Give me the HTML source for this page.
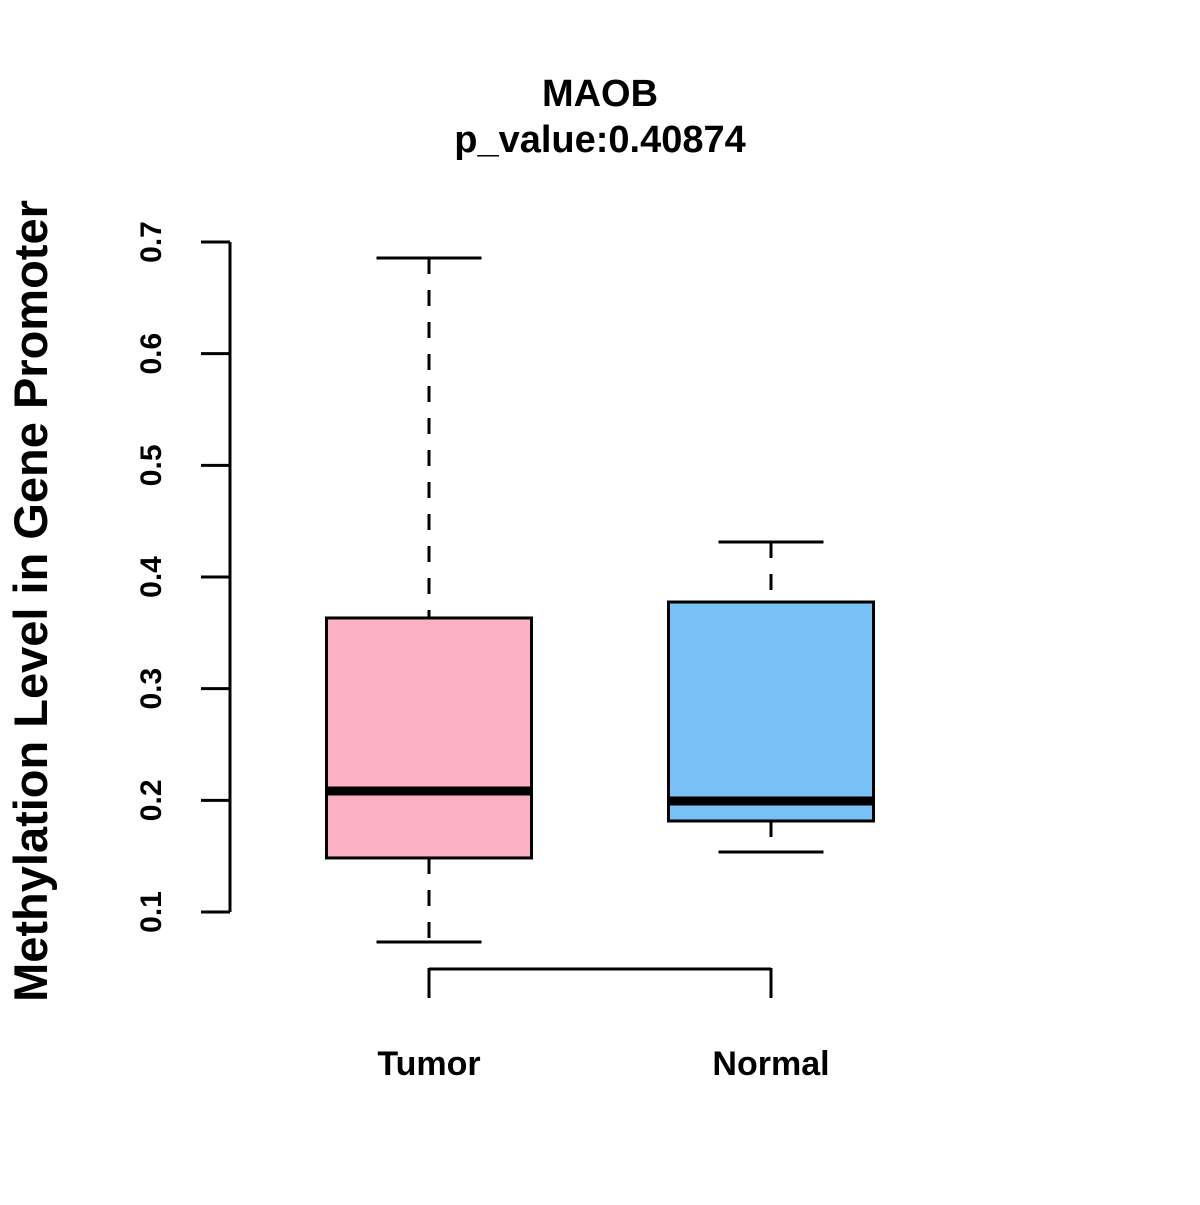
<!DOCTYPE html>
<html><head><meta charset="utf-8"><style>
body{margin:0;background:#fff}
svg text{font-family:"Liberation Sans",Arial,sans-serif;font-weight:bold;fill:#000}
</style></head><body>
<svg width="1200" height="1200" viewBox="0 0 1200 1200">
<rect width="1200" height="1200" fill="#fff"/>
<text x="600" y="106" text-anchor="middle" font-size="38">MAOB</text>
<text x="600" y="152" text-anchor="middle" font-size="38">p_value:0.40874</text>
<text transform="translate(47,601) rotate(-90)" text-anchor="middle" font-size="47">Methylation Level in Gene Promoter</text>
<g id="yaxis"></g>
<g id="boxes"></g>
<g id="xaxis"></g>
</svg>
<script>
const categories=["Tumor","Normal"];
const whiskerLow=[0.0731,0.1537];
const q1=[0.1484,0.1815];
const median=[0.2084,0.1994];
const q3=[0.3633,0.3776];
const whiskerHigh=[0.6857,0.4313];
const colors=["#FBB1C3","#77C1F7"];
const yTicks=[0.1,0.2,0.3,0.4,0.5,0.6,0.7];
const NS="http://www.w3.org/2000/svg";
function y(v){return 912-(v-0.1)*(670/0.6);}
function x(i){return 429+i*342;}
function mk(p,tag,a){const e=document.createElementNS(NS,tag);for(const k in a)e.setAttribute(k,a[k]);p.appendChild(e);return e;}
const ya=document.getElementById('yaxis');
let l=mk(ya,'line',{x1:230,x2:230,y1:y(yTicks[0]),y2:y(yTicks[yTicks.length-1]),stroke:'#000','stroke-width':3});


yTicks.forEach(t=>{
 const tk=mk(ya,'line',{x1:201,x2:230,y1:y(t),y2:y(t),stroke:'#000','stroke-width':3});
 
 
 const tx=mk(ya,'text',{transform:`translate(161,${y(t)}) rotate(-90)`,'text-anchor':'middle','font-size':30});
 tx.textContent=t.toFixed(1);
 
 
});
const bx=document.getElementById('boxes');
categories.forEach((c,i)=>{
 const cx=x(i),hw=102.5,cw=52.5;
 const g=mk(bx,'g',{});
 
 
 mk(g,'line',{x1:cx,x2:cx,y1:y(whiskerHigh[i]),y2:y(q3[i]),stroke:'#000','stroke-width':3,'stroke-dasharray':'16,16'});
 mk(g,'line',{x1:cx,x2:cx,y1:y(q1[i]),y2:y(whiskerLow[i]),stroke:'#000','stroke-width':3,'stroke-dasharray':'16,16'});
 mk(g,'line',{x1:cx-cw,x2:cx+cw,y1:y(whiskerHigh[i]),y2:y(whiskerHigh[i]),stroke:'#000','stroke-width':3});
 mk(g,'line',{x1:cx-cw,x2:cx+cw,y1:y(whiskerLow[i]),y2:y(whiskerLow[i]),stroke:'#000','stroke-width':3});
 mk(g,'rect',{x:cx-hw,y:y(q3[i]),width:2*hw,height:y(q1[i])-y(q3[i]),fill:colors[i],stroke:'#000','stroke-width':3});
 mk(g,'line',{x1:cx-hw,x2:cx+hw,y1:y(median[i]),y2:y(median[i]),stroke:'#000','stroke-width':9});
});
const xa=document.getElementById('xaxis');
const xl=mk(xa,'line',{x1:x(0),x2:x(categories.length-1),y1:969,y2:969,stroke:'#000','stroke-width':3});


categories.forEach((c,i)=>{
 const tk=mk(xa,'line',{x1:x(i),x2:x(i),y1:968,y2:998,stroke:'#000','stroke-width':3});
 
 
 const tx=mk(xa,'text',{x:x(i),y:1075,'text-anchor':'middle','font-size':34});
 tx.textContent=c;
 
 
});
</script>
</body></html>
